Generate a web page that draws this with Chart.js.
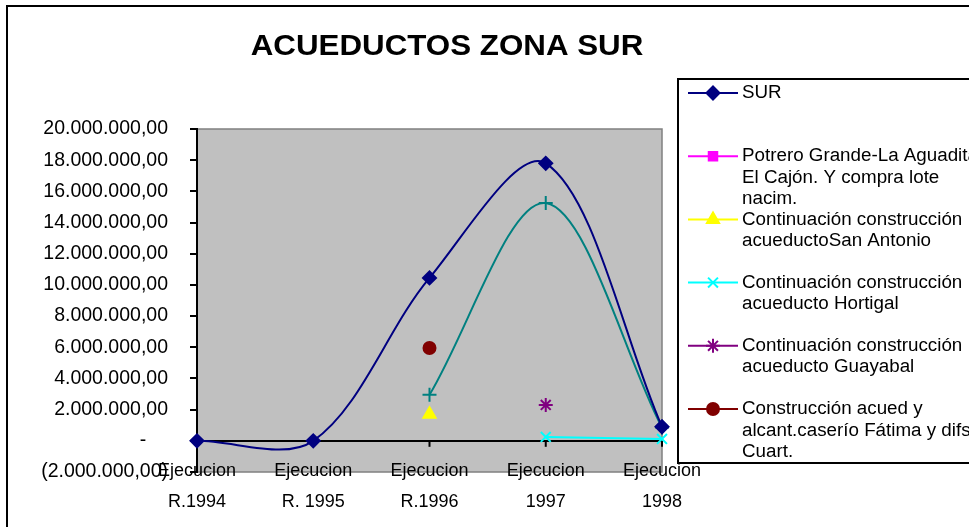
<!DOCTYPE html>
<html>
<head>
<meta charset="utf-8">
<script src="https://cdn.jsdelivr.net/npm/chart.js@4/dist/chart.umd.min.js"></script>
<style>
  html, body { margin: 0; padding: 0; background: #fff; }
</style>
</head>
<body>
<canvas id="myChart" width="969" height="527"></canvas>
<script>
// values
let chart_title = 'ACUEDUCTOS ZONA SUR';
let categories = [['Ejecucion', 'R.1994'], ['Ejecucion', 'R. 1995'], ['Ejecucion', 'R.1996'], ['Ejecucion', '1997'], ['Ejecucion', '1998']];

let sur_values = [0, 0, 10450000, 17800000, 900000];
let potrero_values = [null, null, null, null, null];
let san_antonio_values = [null, null, 1700000, null, null];
let hortigal_values = [null, null, null, 250000, 120000];
let guayabal_values = [null, null, null, 2300000, null];
let fatima_values = [null, null, 5950000, null, null];
// teal series - its legend entry is cut off in the original
let teal_values = [null, null, 2950000, 15250000, 850000];

let series_names = [
  'SUR',
  'Potrero Grande-La Aguadita-\nEl Cajón. Y compra lote\nnacim.',
  'Continuación construcción\nacueductoSan Antonio',
  'Continuación construcción\nacueducto Hortigal',
  'Continuación construcción\nacueducto Guayabal',
  'Construcción acued y\nalcant.caserío Fátima y difs.\nCuart.'
];

let y_min = -2000000;
let y_max = 20000000;
let y_step = 2000000;

const FONT = '"Liberation Sans", Arial, sans-serif';

// excel style number format: 20.000.000,00 / - / (2.000.000,00)
function excelNumber(v) {
  if (v === 0) return '-    ';
  let s = Math.abs(v).toFixed(0).replace(/\B(?=(\d{3})+(?!\d))/g, '.') + ',00';
  return v < 0 ? '(' + s + ')' : s;
}

function serie(label, data, color, style, radius, tension) {
  return {
    label: label,
    data: data,
    borderColor: color,
    backgroundColor: color,
    pointBackgroundColor: color,
    pointBorderColor: color,
    pointStyle: style,
    pointRadius: radius,
    pointBorderWidth: 2,
    borderWidth: 2,
    tension: tension,
    fill: false
  };
}

let datasets = [
  serie(series_names[0], sur_values, '#000080', 'rectRot', 6.5, 0.33),
  serie(series_names[1], potrero_values, '#FF00FF', 'rect', 6, 0.33),
  serie(series_names[2], san_antonio_values, '#FFFF00', 'triangle', 7, 0.33),
  serie(series_names[3], hortigal_values, '#00FFFF', 'crossRot', 7, 0),
  serie(series_names[4], guayabal_values, '#800080', 'star', 7, 0.33),
  serie(series_names[5], fatima_values, '#800000', 'circle', 6, 0.33),
  serie('', teal_values, '#008080', 'cross', 7, 0.33)
];

// frame, plot background, title, category labels/ticks and the legend box
const excelLook = {
  id: 'excelLook',
  beforeDraw(chart) {
    const ctx = chart.ctx, a = chart.chartArea;
    ctx.save();
    ctx.fillStyle = '#fff';
    ctx.fillRect(0, 0, chart.width, chart.height);
    ctx.strokeStyle = '#000';
    ctx.lineWidth = 2;
    ctx.strokeRect(7, 6, chart.width + 20, chart.height + 20);
    ctx.fillStyle = '#C0C0C0';
    ctx.fillRect(a.left, a.top, a.right - a.left, a.bottom - a.top);
    ctx.strokeStyle = '#808080';
    ctx.lineWidth = 1.5;
    ctx.strokeRect(a.left, a.top, a.right - a.left, a.bottom - a.top);
    // title, a bit wider like the excel one
    ctx.fillStyle = '#000';
    ctx.font = 'bold 29px ' + FONT;
    ctx.textAlign = 'center';
    ctx.textBaseline = 'middle';
    ctx.translate(447, 47);
    ctx.scale(1.08, 1);
    ctx.fillText(chart_title, 0, 0);
    ctx.restore();
  },
  beforeDatasetsDraw(chart) {
    const ctx = chart.ctx;
    const xs = chart.scales.x, ys = chart.scales.y;
    const y0 = ys.getPixelForValue(0);
    ctx.save();
    ctx.strokeStyle = '#000';
    ctx.lineWidth = 2;
    for (let i = 0; i < categories.length; i++) {
      const px = xs.getPixelForValue(i);
      ctx.beginPath();
      ctx.moveTo(px, y0);
      ctx.lineTo(px, y0 + 6);
      ctx.stroke();
    }
    ctx.restore();
  },
  afterDraw(chart) {
    const ctx = chart.ctx;
    const xs = chart.scales.x;
    ctx.save();
    // category labels sit partly over the plot area, as in excel
    ctx.fillStyle = '#000';
    ctx.font = '18px ' + FONT;
    ctx.textAlign = 'center';
    ctx.textBaseline = 'middle';
    for (let i = 0; i < categories.length; i++) {
      const px = xs.getPixelForValue(i);
      let lbl = xs.getLabelForValue(i);
      if (!Array.isArray(lbl)) lbl = [lbl];
      lbl.forEach((line, j) => ctx.fillText(line, px, 471 + j * 31));
    }
    // legend
    ctx.fillStyle = '#fff';
    ctx.fillRect(678, 79, 300, 384);
    ctx.strokeStyle = '#000';
    ctx.lineWidth = 2;
    ctx.strokeRect(678, 79, 300, 384);
    ctx.font = '18.8px ' + FONT;
    ctx.textAlign = 'left';
    for (let i = 0; i < series_names.length; i++) {
      const ds = chart.data.datasets[i];
      const y = 93 + i * 63.2;
      ctx.strokeStyle = ds.borderColor;
      ctx.fillStyle = ds.backgroundColor;
      ctx.lineWidth = 2;
      ctx.beginPath();
      ctx.moveTo(688, y);
      ctx.lineTo(738, y);
      ctx.stroke();
      Chart.helpers.drawPoint(ctx, {
        pointStyle: ds.pointStyle, radius: ds.pointRadius, borderWidth: 2, rotation: 0
      }, 713, y);
      ctx.fillStyle = '#000';
      series_names[i].split('\n').forEach((line, j) => {
        ctx.fillText(line, 742, y + j * 21.5);
      });
    }
    ctx.restore();
  }
};

let ctx = document.getElementById('myChart').getContext('2d');
let mychart = new Chart(ctx, {
  type: 'line',
  data: {
    labels: categories,
    datasets: datasets
  },
  options: {
    responsive: false,
    animation: false,
    layout: { padding: { top: 129, right: 307, left: 0, bottom: 0 } },
    plugins: {
      legend: { display: false },
      title: { display: false },
      tooltip: { enabled: false }
    },
    scales: {
      x: {
        offset: false,
        afterFit: s => { s.height = 55; },
        grid: { display: false, drawTicks: false },
        border: { display: false },
        ticks: { display: false, autoSkip: false }
      },
      y: {
        min: y_min,
        max: y_max,
        afterFit: s => { s.width = 197; },
        border: { display: true, color: '#000', width: 2 },
        grid: {
          color: c => (c.tick && c.tick.value === 0) ? '#000' : 'rgba(0,0,0,0)',
          lineWidth: 2,
          tickColor: '#000',
          tickLength: 7,
          drawTicks: true
        },
        ticks: {
          stepSize: y_step,
          autoSkip: false,
          padding: 22,
          color: '#000',
          font: { family: FONT, size: 19.5 },
          callback: v => excelNumber(v)
        }
      }
    }
  },
  plugins: [excelLook]
});
</script>
</body>
</html>
